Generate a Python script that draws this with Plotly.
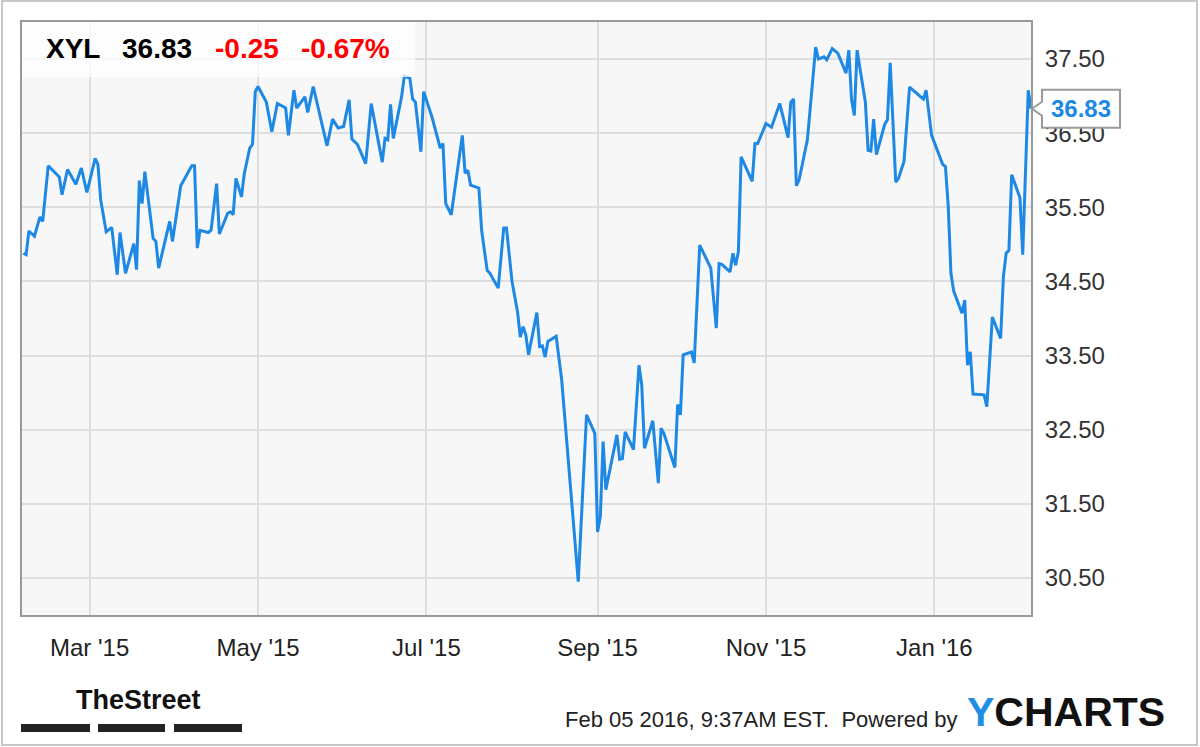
import plotly.graph_objects as go

# ---------------- data ----------------
dates = [
"2015-02-05","2015-02-06","2015-02-07","2015-02-09","2015-02-11","2015-02-12","2015-02-14","2015-02-18","2015-02-19","2015-02-21",
"2015-02-24","2015-02-26","2015-02-28","2015-03-03","2015-03-04","2015-03-05","2015-03-07","2015-03-09","2015-03-11","2015-03-12",
"2015-03-14","2015-03-17","2015-03-18","2015-03-19","2015-03-20","2015-03-21","2015-03-24","2015-03-25","2015-03-26","2015-03-28",
"2015-03-30","2015-03-31","2015-04-03","2015-04-07","2015-04-08","2015-04-09","2015-04-10","2015-04-13","2015-04-14","2015-04-16",
"2015-04-17","2015-04-20","2015-04-21","2015-04-22","2015-04-23","2015-04-25","2015-04-26","2015-04-28","2015-04-29","2015-04-30",
"2015-05-01","2015-05-04","2015-05-06","2015-05-08","2015-05-11","2015-05-12","2015-05-14","2015-05-15","2015-05-18","2015-05-19",
"2015-05-21","2015-05-26","2015-05-28","2015-05-30","2015-06-01","2015-06-03","2015-06-04","2015-06-06","2015-06-09","2015-06-11",
"2015-06-15","2015-06-16","2015-06-17","2015-06-18","2015-06-19","2015-06-22","2015-06-23","2015-06-25","2015-06-26","2015-06-27",
"2015-06-29","2015-06-30","2015-07-02","2015-07-03","2015-07-06","2015-07-07","2015-07-08","2015-07-10","2015-07-14","2015-07-15",
"2015-07-16","2015-07-17","2015-07-20","2015-07-21","2015-07-23","2015-07-24","2015-07-27","2015-07-29","2015-07-30","2015-08-01",
"2015-08-03","2015-08-04","2015-08-05","2015-08-06","2015-08-07","2015-08-10","2015-08-11","2015-08-12","2015-08-13","2015-08-14",
"2015-08-17","2015-08-19","2015-08-25","2015-08-28","2015-08-31","2015-09-01","2015-09-02","2015-09-03","2015-09-04","2015-09-08",
"2015-09-09","2015-09-10","2015-09-11","2015-09-14","2015-09-16","2015-09-17","2015-09-18","2015-09-21","2015-09-23","2015-09-24",
"2015-09-25","2015-09-29","2015-09-30","2015-10-01","2015-10-02","2015-10-05","2015-10-06","2015-10-08","2015-10-12","2015-10-14",
"2015-10-15","2015-10-16","2015-10-19","2015-10-20","2015-10-21","2015-10-22","2015-10-23","2015-10-27","2015-10-28","2015-10-29",
"2015-11-01","2015-11-03","2015-11-06","2015-11-09","2015-11-10","2015-11-11","2015-11-12","2015-11-13","2015-11-16","2015-11-19",
"2015-11-20","2015-11-22","2015-11-23","2015-11-25","2015-11-27","2015-11-30","2015-12-01","2015-12-02","2015-12-03","2015-12-04",
"2015-12-07","2015-12-08","2015-12-09","2015-12-10","2015-12-11","2015-12-14","2015-12-15","2015-12-16","2015-12-18","2015-12-19",
"2015-12-21","2015-12-23","2015-12-28","2015-12-29","2015-12-31","2016-01-04","2016-01-05","2016-01-06","2016-01-07","2016-01-08",
"2016-01-11","2016-01-12","2016-01-13","2016-01-14","2016-01-15","2016-01-19","2016-01-20","2016-01-22","2016-01-25","2016-01-26",
"2016-01-27","2016-01-28","2016-01-29","2016-02-01","2016-02-02","2016-02-04","2016-02-05"]

prices = [
34.88, 34.86, 35.18, 35.11, 35.37, 35.31, 36.06, 35.91, 35.67, 36.01,
35.81, 36.03, 35.70, 36.16, 36.08, 35.60, 35.17, 35.23, 34.59, 35.16,
34.61, 35.01, 34.66, 35.86, 35.55, 35.98, 35.08, 35.04, 34.68, 35.00,
35.31, 35.04, 35.79, 36.06, 36.06, 34.95, 35.19, 35.16, 35.19, 35.82,
35.14, 35.42, 35.44, 35.40, 35.89, 35.64, 35.95, 36.30, 36.35, 37.06,
37.13, 36.92, 36.52, 36.90, 36.84, 36.47, 37.08, 36.84, 36.99, 36.78,
37.13, 36.33, 36.69, 36.57, 36.59, 36.95, 36.42, 36.35, 36.09, 36.90,
36.11, 36.43, 36.41, 36.89, 36.43, 36.99, 37.27, 37.24, 36.96, 36.92,
36.25, 37.06, 36.81, 36.72, 36.30, 36.36, 35.55, 35.40, 36.47, 35.96,
36.00, 35.80, 35.76, 35.19, 34.65, 34.61, 34.41, 35.22, 35.22, 34.50,
34.09, 33.75, 33.89, 33.78, 33.51, 34.08, 33.62, 33.63, 33.48, 33.69,
33.76, 33.17, 30.45, 32.70, 32.45, 31.12, 31.33, 32.34, 31.69, 32.43,
32.10, 32.11, 32.47, 32.23, 33.37, 33.10, 32.25, 32.62, 31.78, 32.52,
32.45, 31.99, 32.84, 32.70, 33.51, 33.55, 33.40, 34.99, 34.68, 33.87,
34.74, 34.73, 34.63, 34.88, 34.72, 34.90, 36.18, 35.85, 36.36, 36.36,
36.63, 36.58, 36.90, 36.44, 36.92, 36.96, 35.79, 35.87, 36.41, 37.66,
37.50, 37.53, 37.49, 37.64, 37.58, 37.31, 37.62, 36.95, 36.74, 37.62,
36.92, 36.27, 36.26, 36.69, 36.21, 36.62, 36.68, 37.45, 35.84, 35.89,
36.12, 37.12, 36.96, 37.08, 36.47, 36.08, 36.05, 35.53, 34.61, 34.37,
34.07, 34.25, 33.37, 33.55, 32.98, 32.97, 32.81, 34.02, 33.73, 34.56,
34.88, 34.92, 35.94, 35.63, 34.86, 37.08, 36.83]

ticker = "XYL"
last_price = "36.83"
change = "-0.25"
change_pct = "-0.67%"

x_tick_dates = ["2015-03-01", "2015-05-01", "2015-07-01", "2015-09-01", "2015-11-01", "2016-01-01"]
x_tick_labels = ["Mar '15", "May '15", "Jul '15", "Sep '15", "Nov '15", "Jan '16"]
y_tick_vals = [30.5, 31.5, 32.5, 33.5, 34.5, 35.5, 36.5, 37.5]
y_tick_labels = ["30.50", "31.50", "32.50", "33.50", "34.50", "35.50", "36.50", "37.50"]

timestamp = "Feb 05 2016, 9:37AM EST."

# ---------------- styling ----------------
W, H = 1200, 747
ML, MR, MT, MB = 22, 169, 22, 132
PW, PH = W - ML - MR, H - MT - MB
Y_MIN, Y_MAX = 30.0, 38.0
LINE_BLUE = "#1e88e5"
FONT = "Arial, Liberation Sans, Helvetica, sans-serif"


def px(xp):
    return (xp - ML) / PW


def py(yp):
    return 1 - (yp - MT) / PH


fig = go.Figure()
fig.add_trace(go.Scatter(
    x=dates, y=prices, mode="lines",
    line=dict(color=LINE_BLUE, width=3),
    hoverinfo="skip", showlegend=False,
))

fig.update_layout(
    width=W, height=H, autosize=False,
    margin=dict(l=ML, r=MR, t=MT, b=MB, pad=0),
    paper_bgcolor="white", plot_bgcolor="#f7f7f7",
    font=dict(family=FONT, color="#333"),
    showlegend=False,
    xaxis=dict(
        type="date",
        range=["2015-02-04 12:00", "2016-02-05 00:00"],
        tickmode="array", tickvals=x_tick_dates, ticktext=x_tick_labels,
        showgrid=True, gridcolor="#dedede", gridwidth=2,
        showline=True, linecolor="#999", linewidth=2, mirror=True,
        ticks="", ticklabelstandoff=10,
        tickfont=dict(size=24, color="#222", family=FONT),
        zeroline=False, fixedrange=True,
    ),
    yaxis=dict(
        range=[Y_MIN, Y_MAX], side="right",
        tickmode="array", tickvals=y_tick_vals, ticktext=y_tick_labels,
        showgrid=True, gridcolor="#dedede", gridwidth=2,
        showline=True, linecolor="#999", linewidth=2, mirror=True,
        ticks="", ticklabelstandoff=7,
        tickfont=dict(size=24, color="#333", family=FONT),
        zeroline=False, fixedrange=True,
    ),
)

shapes = []
# outer frame
shapes.append(dict(type="rect", xref="paper", yref="paper",
                   x0=px(2), x1=px(1197), y0=py(745), y1=py(1),
                   line=dict(color="#c8c8c8", width=2), fillcolor="rgba(0,0,0,0)", layer="below"))
# header box
shapes.append(dict(type="rect", xref="paper", yref="paper",
                   x0=0, x1=px(415), y0=py(77), y1=1,
                   line=dict(width=0), fillcolor="rgba(255,255,255,0.72)", layer="above"))
# last price callout (box + pointer), placed at the last value
last_val = prices[-1]
yc = (last_val - Y_MIN) / (Y_MAX - Y_MIN)
h_half = 19 / PH
w_half = 7 / PH
bx0, bx1, tip = px(1042), px(1120), px(1032)
path = (f"M {tip},{yc} L {bx0},{yc + w_half} L {bx0},{yc + h_half} L {bx1},{yc + h_half} "
        f"L {bx1},{yc - h_half} L {bx0},{yc - h_half} L {bx0},{yc - w_half} Z")
shapes.append(dict(type="path", xref="paper", yref="paper", path=path,
                   line=dict(color="#9a9a9a", width=2), fillcolor="white", layer="above"))
# TheStreet bars
for x0, x1 in [(21, 90), (98, 165), (174, 242)]:
    shapes.append(dict(type="rect", xref="paper", yref="paper",
                       x0=px(x0), x1=px(x1), y0=py(732), y1=py(724),
                       line=dict(width=0), fillcolor="#222", layer="above"))
fig.update_layout(shapes=shapes)

ann = []
hdr_y = py(49)
for txt, xl, col in [(ticker, 44, "#000"), (last_price, 120, "#000"),
                     (change, 213, "#ff0000"), (change_pct, 299, "#ff0000")]:
    ann.append(dict(text=f"<b>{txt}</b>", xref="paper", yref="paper", x=px(xl), y=hdr_y,
                    xanchor="left", yanchor="middle", showarrow=False,
                    font=dict(size=28, color=col, family=FONT)))
ann.append(dict(text=f"<b>{last_price}</b>", xref="paper", yref="paper",
                x=(bx0 + bx1) / 2, y=yc, xanchor="center", yanchor="middle", showarrow=False,
                font=dict(size=24, color=LINE_BLUE, family=FONT)))
ann.append(dict(text="<b>TheStreet</b>", xref="paper", yref="paper", x=px(74), y=py(700),
                xanchor="left", yanchor="middle", showarrow=False,
                font=dict(size=27, color="#111", family=FONT)))
ann.append(dict(text=f"{timestamp}  Powered by", xref="paper", yref="paper", x=px(960), y=py(719),
                xanchor="right", yanchor="middle", showarrow=False,
                font=dict(size=22, color="#222", family=FONT)))
ann.append(dict(text="<b><span style='color:#1e8fe5'>Y</span>CHARTS</b>", xref="paper", yref="paper",
                x=px(965), y=py(712), xanchor="left", yanchor="middle", showarrow=False,
                font=dict(size=41, color="#111", family=FONT)))
fig.update_layout(annotations=ann)

fig.write_html("out.html", config={"displayModeBar": False},
               post_script="document.body.style.margin='0';")
